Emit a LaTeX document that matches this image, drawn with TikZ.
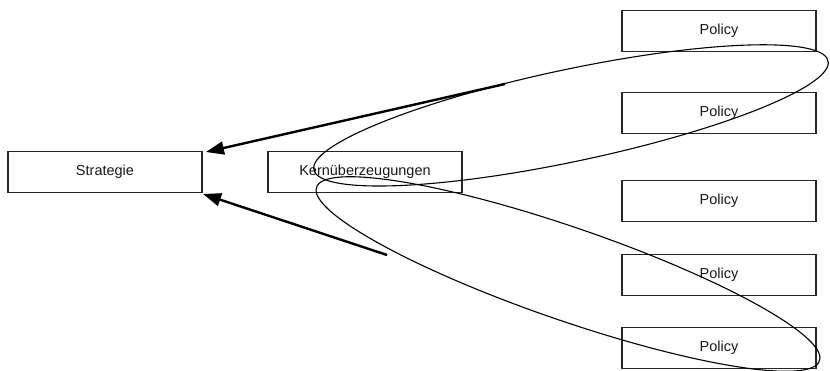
\documentclass[tikz,border=0pt]{standalone}
\usepackage{fontspec}
\setmainfont{Liberation Sans}
\usetikzlibrary{arrows.meta}
\begin{document}
\begin{tikzpicture}[x=1pt,y=-1pt,
  box/.style={draw=black!85, line width=1.2pt, minimum width=194pt, minimum height=41pt, inner sep=0pt, font=\fontsize{14.5}{16}\selectfont, text=black!90},
  bigarrow/.style={line width=2.4pt, -{Triangle[length=18pt,width=13pt]}},
  ring/.style={draw=black, line width=1.1pt}]
\useasboundingbox (0,0) rectangle (830,371);
\node[box] (s) at (105,172.2) {Strategie};
\node[box] (k) at (365,172.2) {Kernüberzeugungen};
\node[box] (p1) at (719,31) {Policy};
\node[box] (p2) at (719,113) {Policy};
\node[box] (p3) at (719,201) {Policy};
\node[box] (p4) at (719,275) {Policy};
\node[box] (p5) at (719,348) {Policy};
\coordinate (a1) at (505,84);
\coordinate (a2) at (387,255);
\coordinate (t1) at (206,152);
\coordinate (t2) at (203,194);
\draw[bigarrow] (a1) -- (t1);
\draw[bigarrow] (a2) -- (t2);
\draw[ring, shift={(571,115.4)}, x={(257.3pt,52.7pt)}, y={(0pt,-47pt)}] (0,0) circle (1);
\draw[ring, shift={(568,274)}, x={(252pt,-84pt)}, y={(0pt,-49pt)}] (0,0) circle (1);
\end{tikzpicture}
\end{document}
